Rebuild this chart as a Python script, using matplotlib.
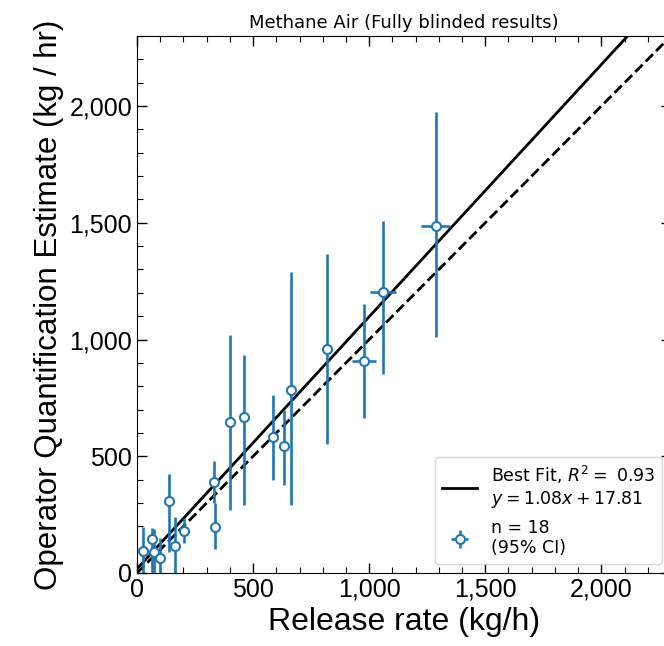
import numpy as np
import matplotlib
matplotlib.use("Agg")
import matplotlib.pyplot as plt
from matplotlib.ticker import FuncFormatter, MultipleLocator

# release rate (kg/h) and operator estimate (kg/hr)
release = [27, 63, 73, 99, 139, 163, 203, 332, 338, 399, 463, 584, 632, 665, 818, 976, 1060, 1286]
estimate = [95, 144, 90, 66, 307, 116, 181, 388, 196, 648, 668, 582, 544, 783, 959, 908, 1202, 1486]
est_lo = [0, 0, 0, 0, 91, 0, 128, 300, 103, 270, 291, 398, 377, 291, 552, 663, 852, 1009]
est_hi = [197, 193, 190, 150, 424, 241, 236, 481, 300, 1019, 934, 762, 698, 1289, 1366, 1151, 1509, 1974]
rel_err = [3, 5, 5, 3, 3, 3, 3, 15, 5, 3, 3, 5, 5, 5, 10, 52, 56, 64]

slope = 1.08
intercept = 17.81
r2 = 0.93
n_pts = 18

release = np.array(release)
estimate = np.array(estimate)
yerr = np.vstack([estimate - np.array(est_lo), np.array(est_hi) - estimate])

fig = plt.figure(figsize=(6.64, 6.46), dpi=100)
ax = fig.add_axes([137/664, 73/646, (671-137)/664, (573-36)/646])

xx = np.array([0, 2300])
ax.plot(xx, slope*xx + intercept, color='black', lw=2,
        label='Best Fit, $R^2 =$ %.2f\n$y = %.2fx + %.2f$' % (r2, slope, intercept))
ax.plot(xx, xx, color='black', lw=2, ls='--')
ax.errorbar(release, estimate, xerr=rel_err, yerr=yerr, fmt='o', color='#1f77b4',
            mfc='white', mec='#1f77b4', ms=6.5, mew=1.5, elinewidth=1.9, capsize=0,
            label='n = %d\n(95%% CI)' % n_pts)

ax.set_xlim(0, 2300)
ax.set_ylim(0, 2300)

fmt = FuncFormatter(lambda v, p: '{:,.0f}'.format(v))
ax.xaxis.set_major_formatter(fmt)
ax.yaxis.set_major_formatter(fmt)
ax.xaxis.set_major_locator(MultipleLocator(500))
ax.yaxis.set_major_locator(MultipleLocator(500))
ax.xaxis.set_minor_locator(MultipleLocator(100))
ax.yaxis.set_minor_locator(MultipleLocator(100))
ax.tick_params(which='both', direction='in', top=True, right=True)
ax.tick_params(which='major', length=7, width=1)
ax.tick_params(which='minor', length=4, width=0.8)
for lab in ax.get_xticklabels() + ax.get_yticklabels():
    lab.set_fontfamily('Liberation Sans')
    lab.set_fontsize(18)

ax.set_xlabel('Release rate (kg/h)', fontsize=23, family='Liberation Sans')
ax.set_ylabel('Operator Quantification Estimate (kg / hr)', fontsize=22.5, family='Liberation Sans')
ax.set_title('Methane Air (Fully blinded results)', fontsize=13)

ax.legend(loc='lower right', fontsize=12.5)

fig.savefig('out.png', dpi=100)
